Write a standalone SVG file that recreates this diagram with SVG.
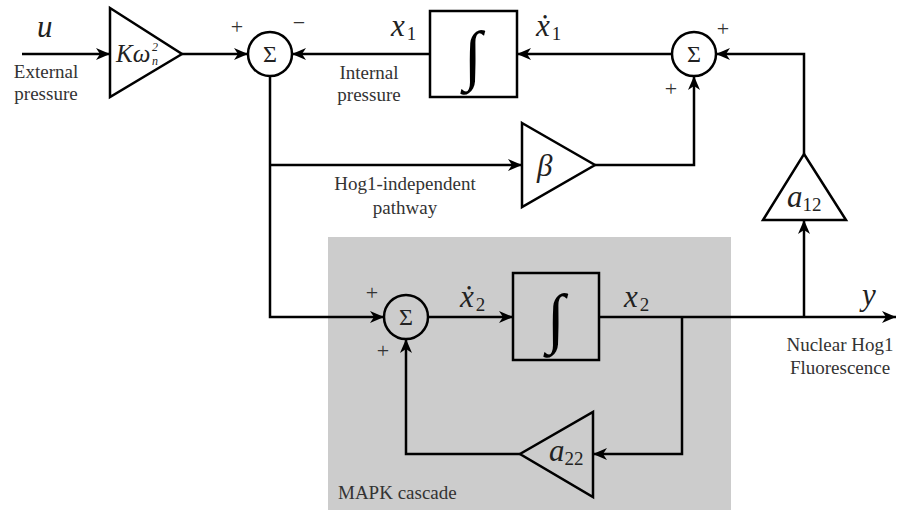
<svg xmlns="http://www.w3.org/2000/svg" width="897" height="512" viewBox="0 0 897 512" font-family="Liberation Serif, Times New Roman, Times, serif">
<defs>
<marker id="arr" markerUnits="userSpaceOnUse" markerWidth="14" markerHeight="12" refX="14" refY="6" orient="auto">
<path d="M0,0 L14,6 L0,12 L4,6 z" fill="#000"/>
</marker>
<style>
.ln{fill:none;stroke:#000;stroke-width:2.5}
.shp{fill:#fff;stroke:#000;stroke-width:2.5}
.shg{fill:#ccc;stroke:#000;stroke-width:2.5}
.lbl{font-size:19px;fill:#333;text-anchor:middle}
.m{font-style:italic;font-size:31px;fill:#222}
.sub{font-size:19px;fill:#222;font-style:normal}
.sig{font-size:24px;fill:#222;text-anchor:middle}
.pm{font-size:22px;fill:#333;text-anchor:middle;font-weight:300}
.int{font-size:66px;fill:#000;text-anchor:middle}
</style>
</defs>
<rect id="mapk" x="328" y="237" width="403" height="273" fill="#cccccc"/>
<text class="lbl" x="338" y="499" text-anchor="start" style="text-anchor:start">MAPK cascade</text>
<g id="connectors">
<path class="ln" d="M22,54 H110" marker-end="url(#arr)"/>
<path class="ln" d="M182,54 H248" marker-end="url(#arr)"/>
<path class="ln" d="M430,54 H292" marker-end="url(#arr)"/>
<path class="ln" d="M672,54 H517" marker-end="url(#arr)"/>
<path class="ln" d="M804,154 V54 H716" marker-end="url(#arr)"/>
<path class="ln" d="M595,165 H694 V76" marker-end="url(#arr)"/>
<path class="ln" d="M270,76 V317 H384" marker-end="url(#arr)"/>
<path class="ln" d="M270,165 H522" marker-end="url(#arr)"/>
<path class="ln" d="M428,317 H513" marker-end="url(#arr)"/>
<path class="ln" d="M599,317 H896" marker-end="url(#arr)"/>
<path class="ln" d="M682,317 V454 H593" marker-end="url(#arr)"/>
<path class="ln" d="M520,454 H406 V339" marker-end="url(#arr)"/>
<path class="ln" d="M804,317 V220" marker-end="url(#arr)"/>
</g>
<g id="input">
<text class="m" x="37" y="37">u</text>
<text class="lbl" x="46" y="78">External</text>
<text class="lbl" x="46" y="100">pressure</text>
</g>
<g id="gainK">
<polygon class="shp" points="110,8 182,54 110,97"/>
<text class="m" x="116" y="62" style="font-size:25px">Kω</text>
<text class="m" x="152" y="51" style="font-size:12px">2</text>
<text class="m" x="152" y="65" style="font-size:12px">n</text>
</g>
<g id="sum1">
<circle class="shp" cx="270" cy="54" r="22"/>
<text class="sig" x="270" y="62">Σ</text>
<text class="pm" x="237" y="34">+</text>
<text class="pm" x="299" y="30">−</text>
</g>
<g id="int1">
<rect class="shp" x="430" y="11" width="87" height="86"/>
<text class="int" x="473" y="77">∫</text>
<text class="m" x="391" y="36">x<tspan class="sub" dx="2" dy="4">1</tspan></text>
<text class="m" x="536" y="36">ẋ<tspan class="sub" dx="2" dy="4">1</tspan></text>
<text class="lbl" x="369" y="79">Internal</text>
<text class="lbl" x="369" y="101">pressure</text>
</g>
<g id="sum2">
<circle class="shp" cx="694" cy="54" r="22"/>
<text class="sig" x="694" y="62">Σ</text>
<text class="pm" x="723" y="36">+</text>
<text class="pm" x="671" y="96">+</text>
</g>
<g id="beta">
<polygon class="shp" points="522,123 595,165 522,207"/>
<text class="m" x="537" y="176">β</text>
<text class="lbl" x="405" y="190">Hog1-independent</text>
<text class="lbl" x="405" y="214">pathway</text>
</g>
<g id="a12">
<polygon class="shp" points="804,154 846,220 763,220"/>
<text class="m" x="787" y="207">a<tspan class="sub" dy="4">12</tspan></text>
</g>
<g id="sum3">
<circle class="shg" cx="406" cy="317" r="22"/>
<text class="sig" x="406" y="325">Σ</text>
<text class="pm" x="372" y="300">+</text>
<text class="pm" x="383" y="358">+</text>
</g>
<g id="int2">
<rect class="shg" x="513" y="273" width="86" height="87"/>
<text class="int" x="556" y="340">∫</text>
<text class="m" x="460" y="307">ẋ<tspan class="sub" dx="2" dy="4">2</tspan></text>
<text class="m" x="624" y="307">x<tspan class="sub" dx="2" dy="4">2</tspan></text>
</g>
<g id="a22">
<polygon class="shg" points="593,412 593,497 520,454"/>
<text class="m" x="549" y="461">a<tspan class="sub" dy="4">22</tspan></text>
</g>
<g id="output">
<text class="m" x="862" y="305">y</text>
<text class="lbl" x="840" y="351">Nuclear Hog1</text>
<text class="lbl" x="840" y="374">Fluorescence</text>
</g>
</svg>
